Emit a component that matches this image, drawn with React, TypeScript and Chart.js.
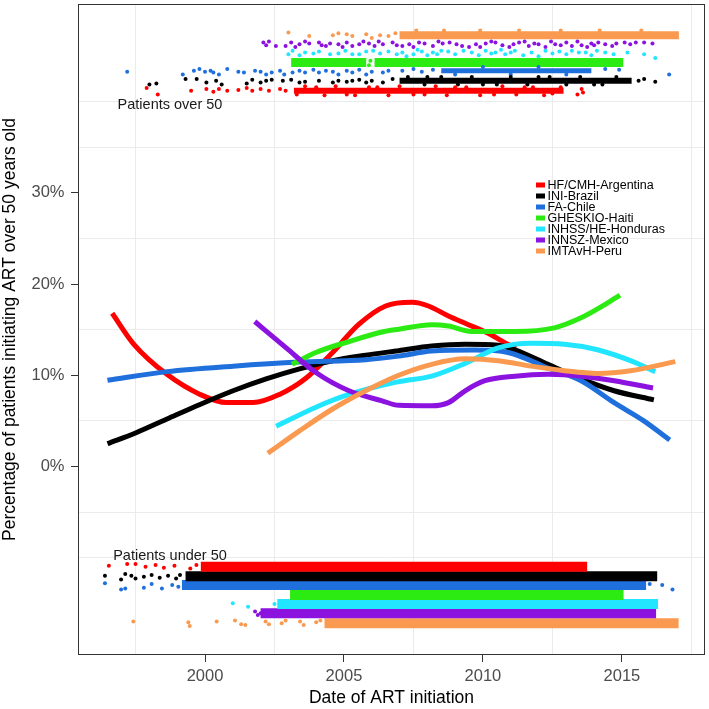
import { useEffect, useRef } from 'react';
import Chart from 'chart.js/auto';

const FONT = '"Liberation Sans", Arial, Helvetica, sans-serif';

const centres = ['HF/CMH-Argentina', 'INI-Brazil', 'FA-Chile', 'GHESKIO-Haiti', 'INHSS/HE-Honduras', 'INNSZ-Mexico', 'IMTAvH-Peru'];
const colours = ['#FF0000', '#000000', '#1F6FDD', '#2CEB12', '#22E6FF', '#8C12E0', '#F99A50'];

// smoothed % of patients over 50 at ART start, by year
const argentinaYears = [1996.66, 1997.44, 1998.63, 1999.82, 2000.78, 2001.73, 2002.68, 2003.64, 2004.59, 2005.54, 2006.5, 2007.45, 2008.04, 2008.76, 2009.36, 2010.19, 2010.9, 2011.2];
const argentinaPct = [16.8, 13.4, 10.1, 7.9, 7.0, 7.0, 7.9, 9.7, 12.5, 15.6, 17.6, 18.0, 17.6, 16.5, 15.7, 14.6, 13.4, 13.0];
const brazilYears = [1996.49, 1997.52, 1998.63, 1999.82, 2001.01, 2002.2, 2003.4, 2004.59, 2005.78, 2006.97, 2008.16, 2009.36, 2010.55, 2011.15, 2012.34, 2013.53, 2014.72, 2016.15];
const brazilPct = [2.5, 3.7, 5.2, 6.8, 8.3, 9.6, 10.7, 11.6, 12.2, 12.7, 13.2, 13.4, 13.3, 12.8, 11.2, 9.6, 8.3, 7.3];
const chileYears = [1996.49, 1998.63, 2001.01, 2003.4, 2005.78, 2006.97, 2008.16, 2009.71, 2010.9, 2012.34, 2013.53, 2014.72, 2015.79, 2016.72];
const chilePct = [9.45, 10.4, 11.0, 11.45, 11.7, 12.1, 12.65, 12.76, 12.5, 10.8, 9.4, 7.0, 5.0, 2.9];
const haitiYears = [2003.13, 2003.99, 2005.18, 2006.37, 2006.97, 2008.16, 2008.76, 2009.59, 2011.15, 2012.57, 2013.53, 2014.36, 2014.93];
const haitiPct = [11.2, 12.5, 13.7, 14.75, 15.05, 15.55, 15.4, 14.8, 14.8, 15.2, 16.3, 17.7, 18.8];
const hondurasYears = [2002.56, 2003.99, 2005.18, 2006.97, 2008.16, 2009.36, 2010.55, 2011.74, 2012.93, 2014.12, 2015.31, 2016.2];
const hondurasPct = [4.4, 6.5, 7.9, 9.3, 9.9, 11.3, 13.0, 13.5, 13.4, 12.8, 11.6, 10.4];
const mexicoYears = [2001.79, 2002.92, 2003.99, 2005.18, 2006.37, 2006.97, 2008.16, 2008.76, 2009.36, 2010.07, 2011.15, 2012.34, 2013.53, 2014.72, 2016.12];
const mexicoPct = [15.9, 13.0, 10.3, 8.3, 7.2, 6.7, 6.65, 7.0, 8.3, 9.4, 9.9, 10.1, 9.9, 9.4, 8.6];
const peruYears = [2002.26, 2003.4, 2004.59, 2005.78, 2006.97, 2008.16, 2009.36, 2010.55, 2011.74, 2012.93, 2014.12, 2015.31, 2016.92];
const peruPct = [1.45, 3.9, 6.3, 8.3, 10.0, 11.2, 11.8, 11.6, 11.0, 10.5, 10.2, 10.5, 11.5];

// jittered individual patients over 50 (upper strip)
const argentinaTopYears = [1997.9, 1998.3, 1999.5, 2000.05, 2000.3, 2000.5, 2000.8, 2001.2, 2001.5, 2001.7, 2002.0, 2002.3, 2002.7, 2002.9, 2003.3, 2004.0, 2005.1, 2006.2, 2007.5, 2009.0, 2010.4, 2011.8, 2012.5, 2013.4, 2013.55, 2013.6,
  2003.6, 2004.3, 2004.7, 2005.4, 2005.9, 2006.6, 2007.0, 2007.9, 2008.3, 2008.7, 2009.4, 2009.9, 2010.7, 2011.2, 2011.5, 2012.2, 2012.8];
const argentinaTopPct = [41.5, 40.8, 41.2, 41.4, 41.1, 41.4, 41.2, 41.3, 41.5, 41.2, 41.4, 41.2, 41.4, 41.2, 40.8, 41.6, 40.8, 41.6, 40.8, 41.6, 40.8, 41.6, 40.9, 40.8, 41.4, 41.0,
  41.7, 40.7, 41.7, 40.7, 41.6, 40.7, 41.7, 40.8, 41.7, 40.7, 41.6, 40.7, 41.7, 40.8, 41.6, 40.7, 41.6];
const brazilTopYears = [1998.0, 1998.25, 1999.3, 1999.7, 2000.05, 2000.4, 2000.6, 2001.5, 2001.7, 2002.0, 2002.2, 2002.4, 2002.8, 2003.1, 2003.4, 2003.6, 2004.1, 2004.6, 2004.8, 2005.1, 2005.3, 2005.55, 2005.8, 2006.0, 2006.4, 2006.75, 2008.0, 2010.0, 2012.0, 2014.0, 2015.6, 2015.8, 2016.2,
  2007.3, 2007.9, 2008.5, 2009.1, 2009.6, 2010.5, 2011.0, 2011.6, 2012.4, 2013.0, 2013.5, 2014.3, 2014.8];
const brazilTopPct = [41.9, 42.0, 42.5, 42.5, 42.1, 42.3, 41.9, 42.0, 42.4, 42.1, 42.3, 42.4, 42.3, 42.4, 42.1, 42.2, 42.3, 42.1, 42.3, 42.2, 42.3, 42.4, 42.1, 42.3, 42.1, 42.5, 42.7, 41.9, 42.7, 41.9, 42.3, 42.5, 42.2,
  42.7, 41.9, 42.7, 41.9, 42.7, 41.9, 42.7, 41.9, 42.7, 41.9, 42.7, 41.9, 42.7];
const chileTopYears = [1997.2, 1999.2, 1999.6, 1999.8, 2000.0, 2000.2, 2000.3, 2000.5, 2000.8, 2001.2, 2001.4, 2001.8, 2002.0, 2002.2, 2002.4, 2002.7, 2002.85, 2003.15, 2003.4, 2003.6, 2003.9, 2004.1, 2004.35, 2004.6, 2004.8, 2005.1, 2005.3, 2005.55, 2005.8, 2006.0, 2006.4, 2006.6, 2007.1, 2007.5, 2007.8, 2008.2, 2014.4, 2014.9, 2016.7, 2009.0, 2010.0, 2011.0, 2012.0, 2013.0];
const chileTopPct = [43.3, 43.0, 43.4, 43.6, 43.3, 43.4, 43.2, 43.0, 43.6, 43.3, 43.2, 43.4, 43.3, 43.0, 43.2, 43.4, 43.0, 43.2, 43.4, 43.2, 43.5, 43.2, 43.4, 43.3, 43.0, 43.4, 43.2, 43.5, 43.0, 43.3, 43.2, 43.4, 43.4, 43.6, 43.3, 43.5, 43.6, 43.5, 43.0, 43.0, 43.8, 43.0, 43.8, 43.0];
const haitiTopYears = [2005.9, 2005.95];
const haitiTopPct = [44.0, 44.5];
const hondurasTopYears = [2003.0, 2003.15, 2003.4, 2003.6, 2003.9, 2004.1, 2004.5, 2004.8, 2005.3, 2005.8, 2006.3, 2006.6, 2006.9, 2007.1, 2007.5, 2007.8, 2008.2, 2008.5, 2009.0, 2009.6, 2010.1, 2010.45, 2010.8, 2011.15, 2011.75, 2012.0, 2012.5, 2013.0, 2013.45, 2013.9, 2014.4, 2015.2, 2015.8, 2016.2,
  2005.05, 2005.55, 2006.05, 2007.25, 2007.65, 2008.0, 2008.35, 2008.75, 2009.3, 2009.85, 2010.3, 2010.65, 2011.0, 2011.45, 2012.25, 2012.75, 2013.2, 2013.7, 2014.1, 2014.7];
const hondurasTopPct = [45.2, 45.6, 45.1, 45.4, 45.3, 45.5, 45.2, 45.3, 45.2, 45.5, 45.3, 45.5, 45.2, 45.4, 45.2, 45.5, 45.4, 45.6, 45.2, 45.4, 45.6, 45.4, 45.2, 45.6, 45.4, 45.0, 45.3, 45.2, 45.4, 45.1, 45.4, 45.4, 45.2, 44.8,
  45.6, 45.2, 45.6, 45.0, 45.7, 45.1, 45.2, 45.5, 45.6, 45.1, 45.3, 45.7, 45.4, 45.1, 45.6, 45.5, 45.6, 45.4, 45.6, 45.2];
const mexicoTopYears = [2002.1, 2002.3, 2002.55, 2002.9, 2003.1, 2003.4, 2003.75, 2004.1, 2004.35, 2004.5, 2004.8, 2005.1, 2005.3, 2005.55, 2005.9, 2006.1, 2006.4, 2006.75, 2007.1, 2007.35, 2007.7, 2008.2, 2008.55, 2008.8, 2009.25, 2009.5, 2009.75, 2010.1, 2010.45, 2010.7, 2010.95, 2011.3, 2011.65, 2012.0, 2012.25, 2012.6, 2013.0, 2013.2, 2013.55, 2013.9, 2014.15, 2014.4, 2014.65, 2015.1, 2015.5, 2015.8, 2016.1,
  2002.2, 2003.25, 2003.6, 2004.2, 2004.95, 2005.7, 2006.25, 2006.9, 2007.5, 2007.9, 2008.4, 2009.05, 2009.9, 2010.3, 2011.1, 2011.5, 2011.85, 2012.45, 2012.8, 2013.4, 2013.75, 2014.0, 2014.8, 2015.3];
const mexicoTopPct = [46.5, 46.6, 46.1, 46.1, 46.5, 46.3, 46.4, 46.5, 46.1, 46.4, 46.3, 46.5, 46.1, 46.3, 46.4, 46.1, 46.3, 46.5, 46.1, 46.3, 46.5, 46.1, 46.4, 46.5, 46.1, 46.0, 46.3, 46.4, 46.5, 46.2, 46.0, 46.5, 46.1, 46.3, 46.0, 46.3, 46.5, 46.1, 46.2, 46.4, 46.5, 46.3, 46.1, 46.5, 46.5, 46.5, 46.4,
  46.2, 46.0, 46.6, 46.2, 46.0, 46.6, 46.6, 46.2, 46.0, 46.4, 46.6, 46.3, 46.0, 46.6, 46.3, 46.6, 46.4, 46.6, 46.2, 46.6, 46.0, 46.2, 46.4, 46.3];
const peruTopYears = [2003.0, 2003.75, 2004.6, 2004.8, 2005.1, 2005.3, 2005.8, 2006.0, 2006.3, 2006.6, 2006.85, 2007.6, 2008.6, 2009.9, 2011.3, 2012.8, 2014.2, 2015.7];
const peruTopPct = [47.6, 47.2, 47.3, 47.5, 47.4, 47.2, 47.4, 47.0, 47.3, 47.2, 47.5, 47.8, 47.8, 47.8, 47.8, 47.8, 47.8, 47.8];

// jittered individual patients under 50 (lower strip), sparse early ones
const argentinaBottomYears = [1996.54, 1997.2, 1997.5, 1997.86, 1998.22, 1998.52, 1998.9, 1999.47, 1999.69];
const argentinaBottomPct = [-10.9, -10.7, -10.7, -11.0, -10.8, -11.1, -10.9, -11.2, -10.8];
const brazilBottomYears = [1996.4, 1996.98, 1997.13, 1997.35, 1997.5, 1997.8, 1998.08, 1998.37, 1998.67, 1998.96, 1999.1];
const brazilBottomPct = [-12.0, -12.4, -11.8, -12.0, -12.3, -12.1, -11.9, -12.2, -12.0, -12.3, -11.9];
const chileBottomYears = [1996.4, 1996.98, 1997.13, 1997.8, 1998.08, 1998.45, 1998.82, 1999.04, 2016.0, 2016.45, 2016.82];
const chileBottomPct = [-12.8, -13.5, -13.4, -13.3, -12.9, -13.4, -13.0, -13.2, -12.9, -13.0, -13.5];
const haitiBottomYears: number[] = [];
const haitiBottomPct: number[] = [];
const hondurasBottomYears = [2001.0, 2001.55, 2002.5, 2002.7];
const hondurasBottomPct = [-15.0, -15.4, -15.1, -14.8];
const mexicoBottomYears = [2001.8, 2001.9, 2002.0];
const mexicoBottomPct = [-15.9, -16.3, -16.1];
const peruBottomYears = [1997.42, 1999.4, 1999.45, 2000.42, 2001.08, 2001.3, 2001.45, 2002.18, 2002.3, 2002.76, 2002.9, 2003.42, 2003.55, 2004.0, 2004.15];
const peruBottomPct = [-17.0, -17.1, -17.5, -17.0, -16.9, -17.3, -17.4, -17.0, -17.3, -17.2, -16.9, -17.0, -17.4, -17.1, -16.9];

// centre of each jitter strip and the years where it is packed solid
const topLevels = [41.2, 42.3, 43.4, 44.3, 45.3, 46.3, 47.3];
const bottomLevels = [-11.0, -12.05, -13.0, -14.1, -15.1, -16.1, -17.2];
const topDense = [[[2003.2, 2012.9]], [[2007.0, 2015.35]], [[2008.5, 2013.9]], [[2003.1, 2005.8], [2006.1, 2015.05]], [], [], [[2007.0, 2017.05]]];
const bottomDense = [[1999.85, 2013.75], [1999.3, 2016.27], [1999.17, 2015.87], [2003.06, 2015.06], [2002.6, 2016.3], [2002.0, 2016.23], [2004.3, 2017.04]];

// axes
const xLabelled = [2000, 2005, 2010, 2015];
const xMinor = [1997.5, 2002.5, 2007.5, 2012.5, 2017.5];
const yLabelled = [0, 10, 20, 30];
const yMinor = [-10, -5, 5, 15, 25, 35, 40];
const captionYear = 1998.74;
const overCaptionPct = 39.6;
const underCaptionPct = -9.8;

const curveYears = [argentinaYears, brazilYears, chileYears, haitiYears, hondurasYears, mexicoYears, peruYears];
const curvePct = [argentinaPct, brazilPct, chilePct, haitiPct, hondurasPct, mexicoPct, peruPct];
const topYears = [argentinaTopYears, brazilTopYears, chileTopYears, haitiTopYears, hondurasTopYears, mexicoTopYears, peruTopYears];
const topPct = [argentinaTopPct, brazilTopPct, chileTopPct, haitiTopPct, hondurasTopPct, mexicoTopPct, peruTopPct];
const bottomYears = [argentinaBottomYears, brazilBottomYears, chileBottomYears, haitiBottomYears, hondurasBottomYears, mexicoBottomYears, peruBottomYears];
const bottomPct = [argentinaBottomPct, brazilBottomPct, chileBottomPct, haitiBottomPct, hondurasBottomPct, mexicoBottomPct, peruBottomPct];
const topStripWidths = [6, 6, 5, 9, 0, 0, 8];

const zip = (xs: number[], ys: number[]) =>
  xs.slice(0, Math.min(xs.length, ys.length)).map((x, i) => ({ x, y: ys[i] }));

const buildDatasets = () => {
  const sets: any[] = [];
  centres.forEach((name, i) => {
    const c = colours[i];
    sets.push({
      label: name,
      data: zip(curveYears[i], curvePct[i]),
      showLine: true,
      borderColor: c,
      backgroundColor: c,
      borderWidth: 5,
      borderCapStyle: 'butt',
      borderJoinStyle: 'round',
      cubicInterpolationMode: 'monotone',
      pointRadius: 0,
      order: 10 - i,
    });
    topDense[i].forEach(([a, b]) => {
      sets.push({
        data: [{ x: a, y: topLevels[i] }, { x: b, y: topLevels[i] }],
        showLine: true,
        borderColor: c,
        borderWidth: topStripWidths[i],
        borderCapStyle: 'butt',
        pointRadius: 0,
        order: 30,
      });
    });
    sets.push({
      data: [{ x: bottomDense[i][0], y: bottomLevels[i] }, { x: bottomDense[i][1], y: bottomLevels[i] }],
      showLine: true,
      borderColor: c,
      borderWidth: 10,
      borderCapStyle: 'butt',
      pointRadius: 0,
      order: 30,
    });
    sets.push({
      data: zip(topYears[i], topPct[i]),
      backgroundColor: c,
      borderWidth: 0,
      pointRadius: 2,
      order: 20,
    });
    sets.push({
      data: zip(bottomYears[i], bottomPct[i]),
      backgroundColor: c,
      borderWidth: 0,
      pointRadius: 2,
      order: 20,
    });
  });
  return sets;
};

// frame, strip captions and the inset legend
const overlayPlugin = {
  id: 'overlay',
  afterDatasetsDraw(chart: any) {
    const { ctx, chartArea: a, scales } = chart;
    ctx.save();
    ctx.strokeStyle = '#333333';
    ctx.lineWidth = 1;
    ctx.strokeRect(a.left + 0.5, a.top + 0.5, a.right - a.left - 1, a.bottom - a.top - 1);

    ctx.fillStyle = '#1A1A1A';
    ctx.font = `14.5px ${FONT}`;
    ctx.textAlign = 'center';
    ctx.textBaseline = 'middle';
    const cx = scales.x.getPixelForValue(captionYear);
    ctx.fillText('Patients over 50', cx, scales.y.getPixelForValue(overCaptionPct));
    ctx.fillText('Patients under 50', cx, scales.y.getPixelForValue(underCaptionPct));

    ctx.font = `12.5px ${FONT}`;
    ctx.textAlign = 'left';
    centres.forEach((name, i) => {
      const y = 185 + i * 11;
      ctx.fillStyle = colours[i];
      ctx.fillRect(536, y - 2.5, 9, 5);
      ctx.fillStyle = '#000000';
      ctx.fillText(name, 547.5, y + 0.5);
    });
    ctx.restore();
  },
};

const App = () => {
  const canvasRef = useRef<HTMLCanvasElement | null>(null);
  const chartRef = useRef<Chart | null>(null);

  useEffect(() => {
    if (!canvasRef.current) return;
    if (chartRef.current) chartRef.current.destroy();

    const tickFont = { family: FONT, size: 16.5 };
    const titleFont = { family: FONT, size: 17.5 };
    const gridColour = (labelled: number[]) => (c: any) =>
      labelled.includes(c.tick?.value) ? 'rgba(0,0,0,0)' : '#EBEBEB';
    const tickColour = (labelled: number[]) => (c: any) =>
      labelled.includes(c.tick?.value) ? '#333333' : 'rgba(0,0,0,0)';

    chartRef.current = new Chart(canvasRef.current, {
      type: 'scatter',
      data: { datasets: buildDatasets() },
      options: {
        responsive: false,
        animation: false,
        events: [],
        layout: { padding: { top: 1, right: 2, left: 0, bottom: 0 } },
        plugins: { legend: { display: false }, tooltip: { enabled: false } },
        scales: {
          x: {
            type: 'linear',
            min: 1995.43,
            max: 2017.99,
            afterBuildTicks: (s: any) => {
              s.ticks = [...xLabelled, ...xMinor].sort((p, q) => p - q).map((v) => ({ value: v }));
            },
            afterFit: (s: any) => {
              s.height = 54;
              s.paddingLeft = 0;
              s.paddingRight = 0;
            },
            ticks: {
              autoSkip: false,
              maxRotation: 0,
              color: '#4D4D4D',
              font: tickFont,
              padding: 5,
              callback: (v: any) => (xLabelled.includes(Number(v)) ? String(v) : ''),
            },
            grid: { color: gridColour(xLabelled), tickColor: tickColour(xLabelled), tickLength: 7, lineWidth: 1 },
            border: { display: false },
            title: { display: true, text: 'Date of ART initiation', color: '#000000', font: titleFont, padding: 0 },
          },
          y: {
            type: 'linear',
            min: -20.68,
            max: 50.72,
            afterBuildTicks: (s: any) => {
              s.ticks = [...yLabelled, ...yMinor].sort((p, q) => p - q).map((v) => ({ value: v }));
            },
            afterFit: (s: any) => {
              s.width = 78;
              s.paddingTop = 0;
              s.paddingBottom = 0;
            },
            ticks: {
              autoSkip: false,
              color: '#4D4D4D',
              font: tickFont,
              padding: 6.5,
              callback: (v: any) => (yLabelled.includes(Number(v)) ? `${v}%` : ''),
            },
            grid: { color: gridColour(yLabelled), tickColor: tickColour(yLabelled), tickLength: 7, lineWidth: 1 },
            border: { display: false },
            title: {
              display: true,
              text: 'Percentage of patients initiating ART over 50 years old',
              color: '#000000',
              font: titleFont,
              padding: 0,
            },
          },
        },
      } as any,
      plugins: [overlayPlugin],
    });

    return () => {
      if (chartRef.current) {
        chartRef.current.destroy();
        chartRef.current = null;
      }
    };
  }, []);

  return (
    <div style={{ position: 'absolute', left: 0, top: 0, width: 709, height: 709, background: '#FFFFFF' }}>
      <canvas ref={canvasRef} width={709} height={709} />
    </div>
  );
};

export default App;
